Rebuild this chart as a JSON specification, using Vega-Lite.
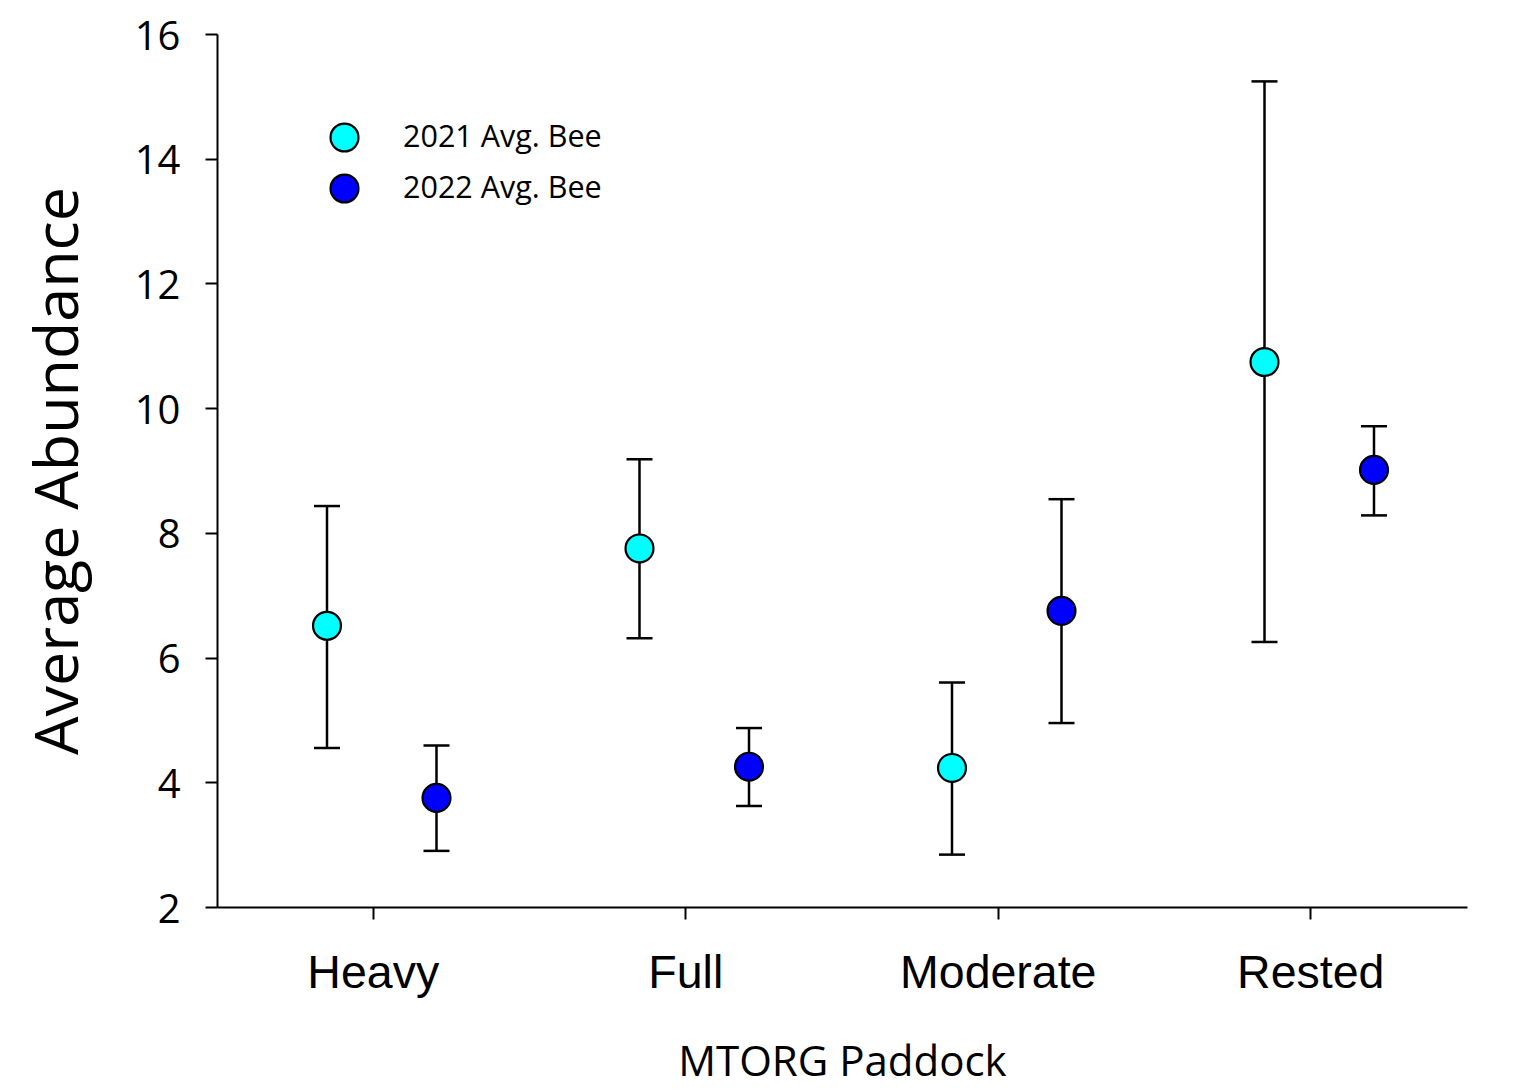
{
  "$schema": "https://vega.github.io/schema/vega-lite/v6.json",
  "width": 1250,
  "height": 873,
  "autosize": {"type": "none"},
  "padding": {"left": 217, "top": 34, "right": 57, "bottom": 185},
  "background": "white",
  "config": {
    "view": {"stroke": null},
    "axis": {
      "grid": false,
      "domainColor": "black",
      "domainWidth": 2,
      "tickColor": "black",
      "tickWidth": 2,
      "tickSize": 12,
      "labelColor": "black",
      "labelLimit": 0,
      "titleColor": "black",
      "titleFontWeight": "normal"
    }
  },
  "data": {
    "values": [
      {"paddock": "Heavy", "series": "2021 Avg. Bee", "mean": 6.51, "lo": 4.55, "hi": 8.43},
      {"paddock": "Heavy", "series": "2022 Avg. Bee", "mean": 3.75, "lo": 2.90, "hi": 4.59},
      {"paddock": "Full", "series": "2021 Avg. Bee", "mean": 7.75, "lo": 6.31, "hi": 9.18},
      {"paddock": "Full", "series": "2022 Avg. Bee", "mean": 4.25, "lo": 3.62, "hi": 4.87},
      {"paddock": "Moderate", "series": "2021 Avg. Bee", "mean": 4.23, "lo": 2.84, "hi": 5.60},
      {"paddock": "Moderate", "series": "2022 Avg. Bee", "mean": 6.75, "lo": 4.95, "hi": 8.54},
      {"paddock": "Rested", "series": "2021 Avg. Bee", "mean": 10.74, "lo": 6.25, "hi": 15.24},
      {"paddock": "Rested", "series": "2022 Avg. Bee", "mean": 9.01, "lo": 8.28, "hi": 9.71}
    ]
  },
  "encoding": {
    "x": {
      "field": "paddock",
      "type": "nominal",
      "sort": ["Heavy", "Full", "Moderate", "Rested"],
      "scale": {"paddingInner": 0, "paddingOuter": 0},
      "title": "MTORG Paddock",
      "axis": {
        "labelAngle": 0,
        "labelFont": "Liberation Sans",
        "labelFontSize": 46.5,
        "labelPadding": 31,
        "labelLimit": 0,
        "titleFont": "Open Sans",
        "titleFontSize": 42,
        "titlePadding": 46
      }
    },
    "xOffset": {
      "field": "series",
      "type": "nominal",
      "scale": {"type": "point", "domain": ["2021 Avg. Bee", "2022 Avg. Bee"], "range": [110, 219.5], "padding": 0}
    }
  },
  "layer": [
    {
      "mark": {"type": "rule", "color": "black", "strokeWidth": 2.5},
      "encoding": {
        "y": {
          "field": "lo",
          "type": "quantitative",
          "title": "Average Abundance",
          "scale": {"domain": [2, 16], "nice": false, "zero": false},
          "axis": {
            "values": [2, 4, 6, 8, 10, 12, 14, 16],
            "format": "d",
            "labelFont": "Open Sans",
            "labelFontSize": 40,
            "labelPadding": 25,
            "labelOffset": 3,
            "titleFont": "Open Sans",
            "titleFontSize": 61,
            "titlePadding": 44
          }
        },
        "y2": {"field": "hi"}
      }
    },
    {
      "mark": {"type": "tick", "color": "black", "thickness": 2.5, "size": 26, "opacity": 1},
      "encoding": {
        "y": {"field": "lo", "type": "quantitative", "title": "Average Abundance"}
      }
    },
    {
      "mark": {"type": "tick", "color": "black", "thickness": 2.5, "size": 26, "opacity": 1},
      "encoding": {
        "y": {"field": "hi", "type": "quantitative", "title": "Average Abundance"}
      }
    },
    {
      "mark": {"type": "point", "shape": "circle", "filled": true, "size": 780, "stroke": "black", "strokeWidth": 2.2, "opacity": 1},
      "encoding": {
        "y": {"field": "mean", "type": "quantitative", "title": "Average Abundance"},
        "fill": {
          "field": "series",
          "type": "nominal",
          "scale": {"domain": ["2021 Avg. Bee", "2022 Avg. Bee"], "range": ["#00ffff", "#0000ff"]},
          "legend": {
            "orient": "none",
            "legendX": 112,
            "legendY": 88,
            "title": null,
            "padding": 0,
            "labelFont": "Open Sans",
            "labelFontSize": 30.5,
            "labelColor": "black",
            "labelLimit": 0,
            "labelOffset": 43,
            "rowPadding": 14,
            "symbolType": "circle",
            "symbolSize": 780,
            "symbolStrokeColor": "black",
            "symbolStrokeWidth": 2.2,
            "symbolOpacity": 1
          }
        }
      }
    }
  ]
}
